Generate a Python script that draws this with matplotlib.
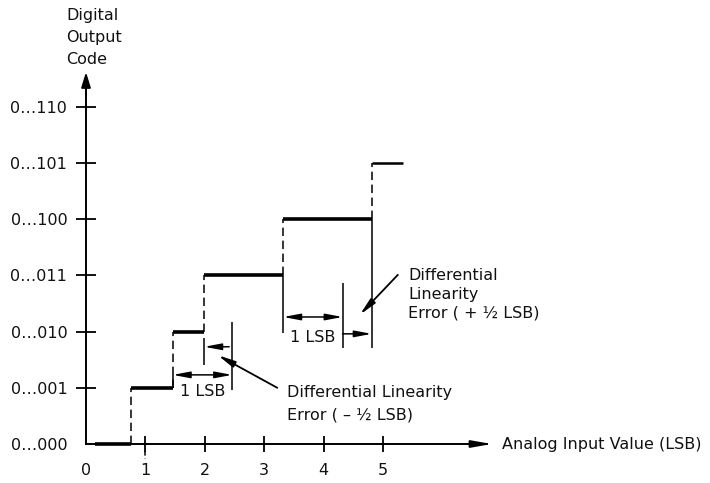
import matplotlib
matplotlib.use("Agg")
import matplotlib.pyplot as plt

# ---- data ----
codes = [0, 1, 2, 3, 4, 5]
code_labels = ['0…000', '0…001', '0…010', '0…011', '0…100', '0…101', '0…110']
code_ticks = [0, 1, 2, 3, 4, 5, 6]
step_start = [0.15, 0.76, 1.46, 1.99, 3.32, 4.81]
step_end = [0.76, 1.46, 1.99, 3.32, 4.81, 5.34]
x_ticks = [0, 1, 2, 3, 4, 5]
x_tick_labels = ['0', '1', '2', '3', '4', '5']
LSB = 1.0

plt.rcParams['font.family'] = ['DejaVu Sans']
FS = 11.5
K = '#111111'

fig = plt.figure(figsize=(7.10, 4.83), dpi=100)
ax = fig.add_axes([0, 0, 1, 1])
ax.set_xlim(-86 / 59.4, (710 - 86) / 59.4)
ax.set_ylim((444 - 483) / 56.2, 444 / 56.2)

# axes as spines
for s in ['top', 'right']:
    ax.spines[s].set_visible(False)
ax.spines['left'].set_position(('data', 0))
ax.spines['bottom'].set_position(('data', 0))
ax.spines['left'].set_bounds(0, 6.55)
ax.spines['bottom'].set_bounds(0, 6.75)
ax.spines['left'].set_linewidth(1.4)
ax.spines['bottom'].set_linewidth(1.4)
ax.set_xticks(x_ticks)
ax.set_xticklabels(x_tick_labels, fontsize=FS, color=K)
ax.set_yticks(code_ticks)
ax.set_yticklabels(code_labels, fontsize=FS, color=K)
ax.tick_params(axis='x', direction='inout', length=12, width=1.3, pad=7.5)
ax.tick_params(axis='y', direction='inout', length=14, width=1.3, pad=6.5)
ax.xaxis.get_major_ticks()[0].tick1line.set_visible(False)
ax.yaxis.get_major_ticks()[0].tick1line.set_visible(False)
ax.patch.set_visible(False)

# axis arrowheads
ax.annotate('', xy=(0, 6.62), xytext=(0, 6.2),
            arrowprops=dict(arrowstyle='-|>,head_length=0.65,head_width=0.2',
                            color='black', lw=1.4, shrinkA=0, shrinkB=0, mutation_scale=14))
ax.annotate('', xy=(6.83, 0), xytext=(6.4, 0),
            arrowprops=dict(arrowstyle='-|>,head_length=0.85,head_width=0.15',
                            color='black', lw=1.4, shrinkA=0, shrinkB=0, mutation_scale=14))

# small dashed extension at tick 1
ax.vlines(1, -0.12, -0.26, colors='black', lw=1.1, linestyles=(0, (3, 2)))

# staircase
ax.hlines(codes[:-1], step_start[:-1], step_end[:-1], colors='black', lw=2.6)
ax.hlines(codes[-1:], step_start[-1:], step_end[-1:], colors='black', lw=1.8)
ax.vlines(step_end[:-1], codes[:-1], codes[1:], colors='black', lw=1.1,
          linestyles=(0, (5.5, 3)))

AH = '-|>,head_length=0.85,head_width=0.16'
AH2 = '<|-|>,head_length=0.85,head_width=0.16'

# ---- annotation: -1/2 LSB ----
lw_a = 1.1
xl = step_end[1]
xr = xl + LSB
ax.vlines(xr, 0.96, 2.17, colors='black', lw=lw_a)
ax.vlines(xl, 1.0, 1.23, colors='black', lw=lw_a)
ax.annotate('', xy=(xl, 1.23), xytext=(xr, 1.23),
            arrowprops=dict(arrowstyle=AH2, color='black', lw=lw_a,
                            shrinkA=0, shrinkB=0, mutation_scale=12))
ax.text((xl + xr) / 2, 0.94, '1 LSB', fontsize=FS, color=K, ha='center', va='center')
ax.vlines(step_end[2], 1.41, 1.89, colors='black', lw=lw_a)
ax.annotate('', xy=(step_end[2], 1.73), xytext=(xr - 0.05, 1.73),
            arrowprops=dict(arrowstyle=AH, color='black', lw=lw_a,
                            shrinkA=0, shrinkB=0, mutation_scale=12))
ax.annotate('', xy=(2.22, 1.58), xytext=(3.22, 1.0),
            arrowprops=dict(arrowstyle=AH, color='black', lw=1.3,
                            shrinkA=0, shrinkB=0, mutation_scale=12))
ax.text(3.39, 0.72, 'Differential Linearity\nError ( – ½ LSB)', fontsize=FS, color=K,
        ha='left', va='center', linespacing=1.6)

# ---- annotation: +1/2 LSB ----
ul = step_end[3]
ur = ul + LSB
ax.vlines(ul, 1.98, 3.0, colors='black', lw=lw_a)
ax.vlines(ur, 1.71, 2.86, colors='black', lw=lw_a)
ax.vlines(step_end[4], 1.71, 4.0, colors='black', lw=lw_a)
ax.annotate('', xy=(ul, 2.26), xytext=(ur, 2.26),
            arrowprops=dict(arrowstyle=AH2, color='black', lw=lw_a,
                            shrinkA=0, shrinkB=0, mutation_scale=12))
ax.text((ul + ur) / 2, 1.89, '1 LSB', fontsize=FS, color=K, ha='center', va='center')
ax.annotate('', xy=(step_end[4], 1.96), xytext=(ur, 1.96),
            arrowprops=dict(arrowstyle=AH, color='black', lw=lw_a,
                            shrinkA=0, shrinkB=0, mutation_scale=12))
ax.annotate('', xy=(4.61, 2.30), xytext=(5.25, 3.01),
            arrowprops=dict(arrowstyle=AH, color='black', lw=1.3,
                            shrinkA=0, shrinkB=0, mutation_scale=12))
ax.text(5.42, 2.66, 'Differential\nLinearity\nError ( + ½ LSB)', fontsize=FS, color=K,
        ha='left', va='center', linespacing=1.3)

# axis titles
ax.text(-0.33, 7.76, 'Digital\nOutput\nCode', fontsize=FS, color=K,
        ha='left', va='top', linespacing=1.6)
ax.text(7.0, 0, 'Analog Input Value (LSB)', fontsize=FS, color=K, ha='left', va='center')

fig.savefig('out.png', dpi=100)
